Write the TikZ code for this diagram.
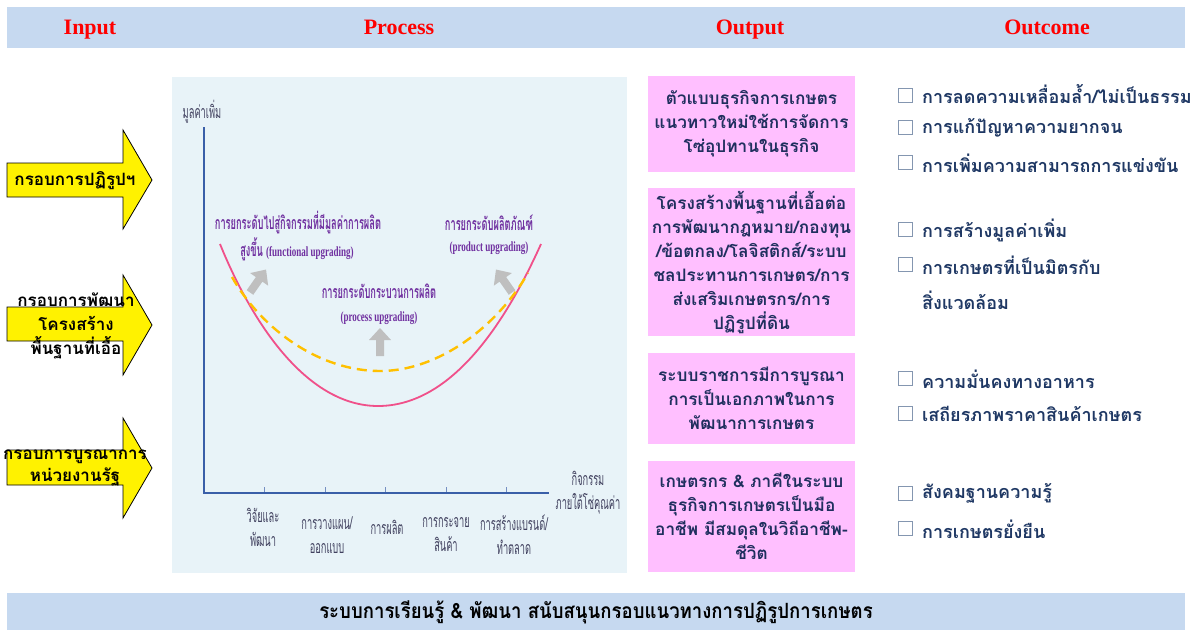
\documentclass[tikz,border=0pt]{standalone}
\usepackage{fontspec}
\setmainfont{Liberation Serif}
\newfontfamily\thai[Script=Thai]{Loma}
\newfontfamily\thaic[Script=Thai,FakeStretch=0.52]{Loma}
\newfontfamily\thaib[Script=Thai,FakeStretch=0.885]{Loma}
\newfontfamily\serc[FakeStretch=0.645]{Liberation Serif}
\definecolor{hdrblue}{HTML}{C6D9F0}
\definecolor{chartbg}{HTML}{E8F3F8}
\definecolor{axisblue}{HTML}{3A5FA8}
\definecolor{pinkc}{HTML}{F0508A}
\definecolor{yelc}{HTML}{FFC000}
\definecolor{grayar}{HTML}{BFBFBF}
\definecolor{purp}{HTML}{7030A0}
\definecolor{axtxt}{HTML}{40405E}
\definecolor{pinkbox}{HTML}{FFBFFF}
\definecolor{navy}{HTML}{1F2F5E}
\definecolor{navy2}{HTML}{1F3864}
\definecolor{cbgray}{HTML}{8496B0}
\tikzset{
  bar/.style={fill=hdrblue, inner sep=0pt, minimum width=1178pt},
  hdtxt/.style={text=red, font=\fontsize{22}{22}\selectfont\bfseries, inner sep=0pt, anchor=base},
  arrowshape/.style={fill=yellow, draw=black, line width=0.8pt},
  atxt/.style={font=\thai\bfseries\fontsize{17}{22}\selectfont, align=center, inner sep=0pt},
  axisline/.style={draw=axisblue, line width=2.6pt},
  tickl/.style={draw=axisblue!70, line width=0.8pt},
  axlbl/.style={text=axtxt, font=\thaic\fontsize{17.8}{24}\selectfont, align=center, inner sep=0pt},
  ptxt/.style={text=purp, font=\thaic\bfseries\fontsize{17.8}{17.8}\selectfont, inner sep=0pt},
  ptxte/.style={text=purp, font=\serc\bfseries\fontsize{14}{14}\selectfont, inner sep=0pt},
  pcurve/.style={draw=pinkc, line width=1.8pt},
  ycurve/.style={draw=yelc, line width=2.4pt, dash pattern=on 10pt off 6pt},
  grayarrow/.style={fill=grayar},
  obox/.style={fill=pinkbox, minimum width=207pt, inner sep=0pt, text=navy,
    font=\thai\bfseries\fontsize{17.2}{24}\selectfont, align=center},
  cbox/.style={draw=cbgray, fill=white, line width=1pt, minimum size=14pt, inner sep=0pt},
  otxt/.style={text=navy2, font=\thai\bfseries\fontsize{18}{18}\selectfont, anchor=west, inner sep=0pt},
  btxt/.style={font=\thaib\bfseries\fontsize{21}{21}\selectfont, inner sep=0pt}
}
\begin{document}
\begin{tikzpicture}[x=1pt,y=-1pt]
\useasboundingbox (0,0) rectangle (1198,633);
\fill[white] (0,0) rectangle (1198,633);
% header
\node[bar, minimum height=41pt] (hdr) at (596,27.5) {};
\node[hdtxt] (hin) at (90,34) {Input};
\node[hdtxt] (hpr) at (399,34) {Process};
\node[hdtxt] (hout) at (750,34) {Output};
\node[hdtxt] (hoc) at (1047,34) {Outcome};
% bottom bar
\node[bar, minimum height=37pt] (bot) at (596,611.5) {};
\node[btxt] (bott) at (596,612) {ระบบการเรียนรู้ \& พัฒนา สนับสนุนกรอบแนวทางการปฏิรูปการเกษตร};
% input arrows
\draw[arrowshape] (7,163) -- (123,163) -- (123,130) -- (152,180) -- (123,229) -- (123,197) -- (7,197) -- cycle;
\draw[arrowshape] (7,307) -- (123,307) -- (123,275) -- (152,325) -- (123,375) -- (123,341) -- (7,341) -- cycle;
\draw[arrowshape] (7,450) -- (123,450) -- (123,418) -- (152,468) -- (123,518) -- (123,485) -- (7,485) -- cycle;
\node[atxt] (a1) at (75,181) {กรอบการปฏิรูปฯ};
\node[atxt, font=\thai\bfseries\fontsize{17}{24}\selectfont] (a2) at (76,326) {กรอบการพัฒนา\\โครงสร้าง\\พื้นฐานที่เอื้อ};
\node[atxt] (a3) at (75,468) {กรอบการบูรณาการ\\หน่วยงานรัฐ};
% chart
\fill[chartbg] (172,77) rectangle (627,573);
\coordinate (ytop) at (204,127);
\coordinate (orig) at (204,493);
\coordinate (xend) at (549,493);
\foreach \tx in {264,325,385,446,506} \draw[tickl] (\tx,487) -- (\tx,493);
\draw[axisline] (ytop) -- (orig) -- (xend);
\node[axlbl] (ylab) at (202,112) {มูลค่าเพิ่ม};
\node[axlbl] (xlab) at (588,493) {กิจกรรม\\ภายใต้โซ่คุณค่า};
\node[axlbl] (x1) at (263,527) {วิจัยและ\\พัฒนา};
\node[axlbl] (x2) at (327,535) {การวางแผน/\\ออกแบบ};
\node[axlbl] (x3) at (387,527) {การผลิต};
\node[axlbl] (x4) at (446,535) {การกระจาย\\สินค้า};
\node[axlbl] (x5) at (514,535) {การสร้างแบรนด์/\\ทำตลาด};
% curves
\draw[pcurve] (220,244) .. controls (255,330) and (310,406) .. (378,406) .. controls (446,406) and (500,335) .. (541,244);
\draw[ycurve] (232,277) .. controls (262,330) and (320,371) .. (380,371) .. controls (440,371) and (498,325) .. (528,273);
% gray arrows
\fill[grayarrow, shift={(380,342)}] (-4,14) -- (-4,-2) -- (-11,-2) -- (0,-14) -- (11,-2) -- (4,-2) -- (4,14) -- cycle;
\fill[grayarrow, shift={(258,281)}, rotate=-35] (-4,14) -- (-4,-2) -- (-11,-2) -- (0,-14) -- (11,-2) -- (4,-2) -- (4,14) -- cycle;
\fill[grayarrow, shift={(504,281)}, rotate=35] (-4,14) -- (-4,-2) -- (-11,-2) -- (0,-14) -- (11,-2) -- (4,-2) -- (4,14) -- cycle;
% purple labels
\node[ptxt] (fu1) at (298,223) {การยกระดับไปสู่กิจกรรมที่มีมูลค่าการผลิต};
\node[ptxt] (fu2) at (297,249) {สูงขึ้น {\serc\fontsize{14}{14}\selectfont (functional upgrading)}};
\node[ptxt] (pu1) at (489,223) {การยกระดับผลิตภัณฑ์};
\node[ptxte] (pu2) at (489,248) {(product upgrading)};
\node[ptxt] (pr1) at (379,291) {การยกระดับกระบวนการผลิต};
\node[ptxte] (pr2) at (379,318) {(process upgrading)};
% output boxes
\node[obox, minimum height=96pt] (o1) at (751.5,124) {ตัวแบบธุรกิจการเกษตร\\แนวทาวใหม่ใช้การจัดการ\\โซ่อุปทานในธุรกิจ};
\node[obox, minimum height=148pt] (o2) at (751.5,262) {โครงสร้างพื้นฐานที่เอื้อต่อ\\การพัฒนากฎหมาย/กองทุน\\/ข้อตกลง/โลจิสติกส์/ระบบ\\ชลประทานการเกษตร/การ\\ส่งเสริมเกษตรกร/การ\\ปฏิรูปที่ดิน};
\node[obox, minimum height=91pt] (o3) at (751.5,398.5) {ระบบราชการมีการบูรณา\\การเป็นเอกภาพในการ\\พัฒนาการเกษตร};
\node[obox, minimum height=111pt] (o4) at (751.5,516.5) {เกษตรกร \& ภาคีในระบบ\\ธุรกิจการเกษตรเป็นมือ\\อาชีพ มีสมดุลในวิถีอาชีพ-\\ชีวิต};
% outcomes
\node[cbox] (c1) at (905.5,95) {};
\node[cbox] (c2) at (905.5,127) {};
\node[cbox] (c3) at (905.5,162) {};
\node[cbox] (c4) at (905.5,229.5) {};
\node[cbox] (c5) at (905.5,264.5) {};
\node[cbox] (c6) at (905.5,378) {};
\node[cbox] (c7) at (905.5,413) {};
\node[cbox] (c8) at (905.5,493) {};
\node[cbox] (c9) at (905.5,528) {};
\node[otxt] (t1) at (922,94) {การลดความเหลื่อมล้ำ/ไม่เป็นธรรม};
\node[otxt] (t2) at (922,128) {การแก้ปัญหาความยากจน};
\node[otxt] (t3) at (922,163) {การเพิ่มความสามารถการแข่งขัน};
\node[otxt] (t4) at (922,230) {การสร้างมูลค่าเพิ่ม};
\node[otxt] (t5) at (922,265) {การเกษตรที่เป็นมิตรกับ};
\node[otxt] (t5b) at (922,300) {สิ่งแวดล้อม};
\node[otxt] (t6) at (922,379) {ความมั่นคงทางอาหาร};
\node[otxt] (t7) at (922,414) {เสถียรภาพราคาสินค้าเกษตร};
\node[otxt] (t8) at (922,493) {สังคมฐานความรู้};
\node[otxt] (t9) at (922,529) {การเกษตรยั่งยืน};
\end{tikzpicture}
\end{document}
